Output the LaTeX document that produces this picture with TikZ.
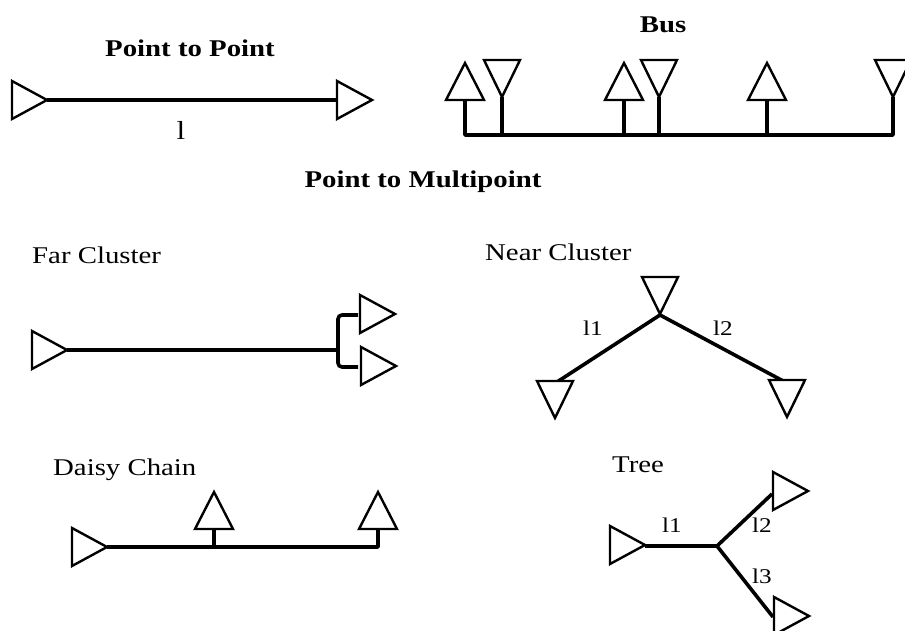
\documentclass[tikz,border=0pt]{standalone}
\usepackage{fontspec}
\setmainfont[FakeStretch=1.2]{Liberation Serif}
\begin{document}
\begin{tikzpicture}[x=1pt,y=-1pt,
  tri/.style={draw=black,line width=2.4pt,line join=miter,fill=white},
  wire/.style={draw=black,line width=3.6pt},
  ttl/.style={font=\fontsize{24}{26}\selectfont\bfseries,inner sep=0pt},
  sect/.style={font=\fontsize{24}{26}\selectfont,inner sep=0pt,anchor=base west},
  lbl/.style={font=\fontsize{21}{23}\selectfont,inner sep=0pt,anchor=base west}]
\clip (0,0) rectangle (905,631);
\fill[white] (0,0) rectangle (905,631);
% triangle macros: apex given
\newcommand\trR[2]{\draw[tri] (#1,#2) -- ++(-35,-19) -- ++(0,38) -- cycle;}
\newcommand\trU[2]{\draw[tri] (#1,#2) -- ++(-19,37) -- ++(38,0) -- cycle;}
\newcommand\trD[2]{\draw[tri] (#1,#2) -- ++(-18,-37) -- ++(36,0) -- cycle;}

%% Point to Point
\node[ttl,anchor=base] (tp2p) at (190,57) {Point to Point};
\coordinate (pa) at (47,100);
\coordinate (pb) at (337,100);
\draw[wire] (pa) -- (pb);
\trR{47}{100}
\trR{372}{100}
\node[lbl,font=\fontsize{26}{28}\selectfont,anchor=base] (pl) at (181,140) {l};

%% Bus
\node[ttl,anchor=base] (tbus) at (663,33) {Bus};
\coordinate (b1) at (465,135);
\coordinate (b2) at (502,135);
\coordinate (b3) at (624,135);
\coordinate (b4) at (659,135);
\coordinate (b5) at (767,135);
\coordinate (b6) at (893,135);
\coordinate (s1) at (465,100);
\coordinate (s2) at (502,97);
\coordinate (s3) at (624,100);
\coordinate (s4) at (659,97);
\coordinate (s5) at (767,100);
\coordinate (s6) at (893,97);
\draw[wire,line join=round] (s1) -- (b1) -- (b6) -- (s6);
\draw[wire] (s2) -- (b2);
\draw[wire] (s3) -- (b3);
\draw[wire] (s4) -- (b4);
\draw[wire] (s5) -- (b5);
\trU{465}{63}
\trD{502}{97}
\trU{624}{63}
\trD{659}{97}
\trU{767}{63}
\trD{893}{97}

%% Point to Multipoint
\node[ttl,anchor=base] (tpm) at (423,188) {Point to Multipoint};

%% Far Cluster
\node[sect] (tfar) at (32,263) {Far Cluster};
\coordinate (fa) at (67,350);
\coordinate (fj) at (338,350);
\coordinate (ft) at (358,315);
\coordinate (fb) at (358,367);
\draw[wire] (fa) -- (fj);
\draw[wire,rounded corners=4pt] (ft) -- (338,315) -- (338,367) -- (fb);
\trR{67}{350}
\trR{395}{314}
\trR{396}{366}

%% Near Cluster
\node[sect] (tnear) at (485,261) {Near Cluster};
\coordinate (nc) at (660,315);
\coordinate (nl) at (557,382);
\coordinate (nr) at (785,382);
\draw[wire] (nl) -- (nc) -- (nr);
\trD{660}{314}
\trD{555}{418}
\trD{787}{417}
\node[lbl] (nl1) at (583,335) {l1};
\node[lbl] (nl2) at (713,335) {l2};

%% Daisy Chain
\node[sect] (tdaisy) at (53,475) {Daisy Chain};
\coordinate (da) at (107,547);
\coordinate (dm) at (214,547);
\coordinate (de) at (378,547);
\coordinate (dt1) at (214,528);
\coordinate (dt2) at (378,528);
\draw[wire,line join=round] (da) -- (de) -- (dt2);
\draw[wire] (dm) -- (dt1);
\trR{107}{547}
\trU{214}{492}
\trU{378}{492}

%% Tree
\node[sect] (ttree) at (612,472) {Tree};
\coordinate (ta) at (645,546);
\coordinate (tj) at (717,546);
\coordinate (tu) at (772,494);
\coordinate (tl) at (773,617);
\draw[wire,line join=round] (ta) -- (tj) -- (tu);
\draw[wire,line join=round] (tj) -- (tl);
\trR{645}{545}
\trR{808}{491}
\trR{809}{616}
\node[lbl] (tl1) at (662,532) {l1};
\node[lbl] (tl2) at (752,532) {l2};
\node[lbl] (tl3) at (752,583) {l3};
\end{tikzpicture}
\end{document}
